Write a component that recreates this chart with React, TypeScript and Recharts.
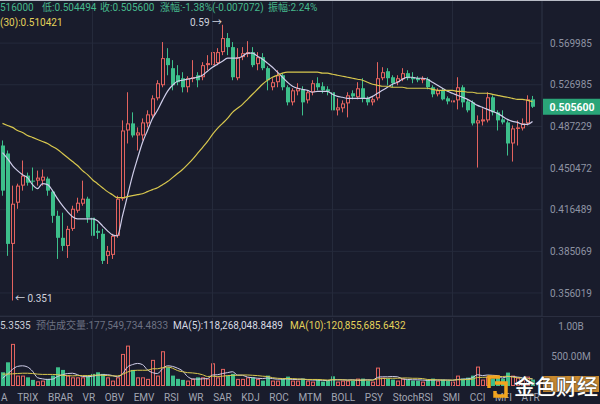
import React from "react";
import { ComposedChart, Bar, Line, XAxis, YAxis, CartesianGrid, ReferenceLine } from "recharts";

// OHLC per candle (oldest first)
const opens = [
  0.4700, 0.4630, 0.3905, 0.4220, 0.4358, 0.4441, 0.4399, 0.4399, 0.4399, 0.4416,
  0.4309, 0.4117, 0.3950, 0.3890, 0.4017, 0.4157, 0.4212, 0.4252, 0.4102, 0.4002,
  0.3980, 0.3818, 0.3825, 0.3965, 0.4252, 0.4835, 0.4900, 0.4790, 0.4790, 0.4900,
  0.4974, 0.5137, 0.5265, 0.5541, 0.5437, 0.5365, 0.5335, 0.5245, 0.5335, 0.5365,
  0.5345, 0.5468, 0.5468, 0.5489, 0.5604, 0.5754, 0.5657, 0.5335, 0.5551, 0.5583,
  0.5604, 0.5478, 0.5551, 0.5437, 0.5245, 0.5295, 0.5365, 0.5245, 0.5098, 0.5205,
  0.5225, 0.5117, 0.5196, 0.5285, 0.5255, 0.5225, 0.5196, 0.5022, 0.5041, 0.5088,
  0.5186, 0.5147, 0.5235, 0.5137, 0.5098, 0.5137, 0.5335, 0.5406, 0.5345, 0.5295,
  0.5325, 0.5386, 0.5345, 0.5335, 0.5315, 0.5325, 0.5245, 0.5176, 0.5215, 0.5137,
  0.5098, 0.5117, 0.5245, 0.5107, 0.5098, 0.4900, 0.4918, 0.4928, 0.5147, 0.5003,
  0.4937, 0.4909, 0.4718, 0.4854, 0.4854, 0.4900, 0.5127,
];
const highs = [
  0.4745, 0.4656, 0.4358, 0.4374, 0.4569, 0.4466, 0.4509, 0.4483, 0.4492, 0.4432,
  0.4325, 0.4157, 0.4141, 0.4040, 0.4196, 0.4260, 0.4399, 0.4268, 0.4117, 0.4055,
  0.4017, 0.3890, 0.3980, 0.4276, 0.4928, 0.5196, 0.5003, 0.4863, 0.4946, 0.5022,
  0.5166, 0.5315, 0.5711, 0.5646, 0.5520, 0.5468, 0.5396, 0.5355, 0.5520, 0.5396,
  0.5499, 0.5572, 0.5700, 0.5646, 0.5900, 0.5809, 0.5711, 0.5646, 0.5657, 0.5721,
  0.5657, 0.5604, 0.5593, 0.5457, 0.5335, 0.5416, 0.5386, 0.5265, 0.5235, 0.5285,
  0.5255, 0.5215, 0.5315, 0.5345, 0.5295, 0.5255, 0.5215, 0.5137, 0.5117, 0.5196,
  0.5215, 0.5295, 0.5335, 0.5156, 0.5147, 0.5499, 0.5447, 0.5437, 0.5365, 0.5365,
  0.5437, 0.5416, 0.5396, 0.5355, 0.5355, 0.5345, 0.5265, 0.5235, 0.5235, 0.5156,
  0.5166, 0.5345, 0.5265, 0.5127, 0.5117, 0.4974, 0.5041, 0.5196, 0.5166, 0.5022,
  0.5022, 0.4928, 0.4881, 0.4928, 0.4946, 0.5166, 0.5160,
];
const lows = [
  0.4276, 0.3818, 0.3510, 0.4172, 0.4317, 0.4358, 0.4317, 0.4358, 0.4358, 0.4276,
  0.4063, 0.3796, 0.3854, 0.3803, 0.4002, 0.4141, 0.4196, 0.4063, 0.3927, 0.3942,
  0.3760, 0.3760, 0.3796, 0.3950, 0.4236, 0.4718, 0.4772, 0.4656, 0.4745, 0.4863,
  0.4946, 0.5117, 0.5245, 0.5365, 0.5215, 0.5265, 0.5195, 0.5195, 0.5295, 0.5245,
  0.5315, 0.5416, 0.5447, 0.5468, 0.5572, 0.5572, 0.5315, 0.5315, 0.5520, 0.5551,
  0.5447, 0.5416, 0.5416, 0.5215, 0.5215, 0.5245, 0.5215, 0.5069, 0.5069, 0.5166,
  0.4974, 0.5088, 0.5166, 0.5215, 0.5186, 0.5166, 0.4909, 0.4974, 0.5003, 0.4956,
  0.5127, 0.5127, 0.5098, 0.5069, 0.5069, 0.5117, 0.5315, 0.5265, 0.5245, 0.5265,
  0.5305, 0.5315, 0.5285, 0.5295, 0.5285, 0.5225, 0.5147, 0.5156, 0.5117, 0.5079,
  0.5088, 0.5031, 0.5050, 0.5003, 0.4881, 0.4509, 0.4881, 0.4909, 0.4974, 0.4835,
  0.4891, 0.4612, 0.4560, 0.4700, 0.4835, 0.4881, 0.5045,
];
const closes = [
  0.4317, 0.3905, 0.4212, 0.4358, 0.4441, 0.4382, 0.4391, 0.4424, 0.4432, 0.4317,
  0.4117, 0.3950, 0.3890, 0.4017, 0.4172, 0.4220, 0.4252, 0.4102, 0.3965, 0.3987,
  0.3782, 0.3854, 0.3965, 0.4252, 0.4835, 0.4900, 0.4790, 0.4817, 0.4909, 0.4984,
  0.5137, 0.5285, 0.5541, 0.5468, 0.5265, 0.5295, 0.5245, 0.5335, 0.5345, 0.5315,
  0.5468, 0.5489, 0.5604, 0.5604, 0.5754, 0.5657, 0.5345, 0.5551, 0.5593, 0.5604,
  0.5468, 0.5551, 0.5437, 0.5315, 0.5295, 0.5365, 0.5245, 0.5098, 0.5215, 0.5235,
  0.5098, 0.5196, 0.5285, 0.5245, 0.5215, 0.5205, 0.5022, 0.5050, 0.5088, 0.5166,
  0.5156, 0.5235, 0.5137, 0.5098, 0.5127, 0.5335, 0.5396, 0.5335, 0.5285, 0.5335,
  0.5386, 0.5335, 0.5325, 0.5315, 0.5335, 0.5245, 0.5176, 0.5215, 0.5127, 0.5107,
  0.5117, 0.5245, 0.5098, 0.5022, 0.4900, 0.4928, 0.4937, 0.5147, 0.5003, 0.4928,
  0.4909, 0.4718, 0.4854, 0.4863, 0.4900, 0.5127, 0.5056,
];

// short moving average (white) and MA(30) (yellow)
const maShort = [
  0.4638, 0.4586, 0.4526, 0.4483, 0.4449, 0.4424, 0.4366, 0.4333, 0.4374, 0.4366,
  0.4317, 0.4252, 0.4196, 0.4149, 0.4110, 0.4094, 0.4094, 0.4094, 0.4094, 0.4079,
  0.4040, 0.4002, 0.3972, 0.3965, 0.4117, 0.4276, 0.4441, 0.4586, 0.4727, 0.4835,
  0.4946, 0.5022, 0.5117, 0.5205, 0.5265, 0.5305, 0.5315, 0.5325, 0.5335, 0.5345,
  0.5365, 0.5406, 0.5447, 0.5478, 0.5509, 0.5541, 0.5541, 0.5541, 0.5561, 0.5593,
  0.5593, 0.5561, 0.5530, 0.5489, 0.5447, 0.5396, 0.5345, 0.5295, 0.5255, 0.5235,
  0.5225, 0.5215, 0.5196, 0.5205, 0.5205, 0.5205, 0.5176, 0.5156, 0.5147, 0.5137,
  0.5137, 0.5137, 0.5137, 0.5137, 0.5156, 0.5186, 0.5215, 0.5245, 0.5275, 0.5295,
  0.5325, 0.5345, 0.5345, 0.5335, 0.5335, 0.5325, 0.5295, 0.5265, 0.5235, 0.5205,
  0.5186, 0.5166, 0.5147, 0.5127, 0.5098, 0.5069, 0.5050, 0.5031, 0.5012, 0.4993,
  0.4965, 0.4937, 0.4918, 0.4909, 0.4891, 0.4891, 0.4918,
];
const ma30 = [
  0.4900, 0.4881, 0.4863, 0.4835, 0.4817, 0.4790, 0.4772, 0.4754, 0.4736, 0.4718,
  0.4691, 0.4665, 0.4630, 0.4595, 0.4560, 0.4526, 0.4483, 0.4449, 0.4407, 0.4374,
  0.4341, 0.4309, 0.4284, 0.4260, 0.4260, 0.4268, 0.4276, 0.4284, 0.4292, 0.4309,
  0.4325, 0.4341, 0.4366, 0.4391, 0.4424, 0.4458, 0.4492, 0.4534, 0.4578, 0.4630,
  0.4682, 0.4736, 0.4799, 0.4854, 0.4900, 0.4946, 0.5003, 0.5041, 0.5079, 0.5127,
  0.5176, 0.5225, 0.5275, 0.5315, 0.5345, 0.5365, 0.5386, 0.5396, 0.5396, 0.5396,
  0.5396, 0.5396, 0.5396, 0.5396, 0.5386, 0.5386, 0.5375, 0.5365, 0.5355, 0.5345,
  0.5335, 0.5325, 0.5315, 0.5295, 0.5275, 0.5265, 0.5255, 0.5255, 0.5245, 0.5245,
  0.5245, 0.5235, 0.5235, 0.5235, 0.5235, 0.5235, 0.5225, 0.5215, 0.5215, 0.5215,
  0.5215, 0.5205, 0.5205, 0.5196, 0.5196, 0.5186, 0.5186, 0.5186, 0.5176, 0.5166,
  0.5156, 0.5147, 0.5137, 0.5127, 0.5127, 0.5117, 0.5104,
];

// volume in millions, with its MA(5) and MA(10)
const volumes = [
  231, 399, 709, 175, 175, 146, 103, 79, 91, 120,
  175, 315, 271, 175, 146, 146, 146, 175, 204, 231,
  204, 146, 91, 146, 540, 680, 271, 146, 146, 120,
  440, 175, 585, 315, 175, 120, 103, 91, 120, 146,
  146, 125, 382, 146, 288, 175, 204, 120, 120, 146,
  146, 120, 91, 175, 91, 91, 120, 158, 91, 91,
  125, 91, 74, 108, 74, 91, 163, 74, 91, 91,
  91, 125, 125, 91, 74, 310, 141, 125, 108, 91,
  125, 108, 91, 91, 74, 108, 125, 91, 108, 91,
  74, 175, 125, 141, 175, 327, 108, 158, 125, 158,
  125, 226, 175, 141, 125, 158, 108,
];
const volMa5 = [
  130, 200, 280, 330, 340, 320, 250, 140, 120, 110,
  115, 160, 190, 210, 215, 190, 160, 155, 165, 180,
  190, 190, 175, 155, 205, 320, 360, 380, 360, 270,
  225, 210, 290, 340, 330, 300, 255, 160, 120, 115,
  120, 125, 185, 190, 210, 225, 240, 185, 180, 150,
  140, 130, 125, 135, 125, 115, 115, 120, 110, 110,
  115, 105, 100, 100, 95, 90, 105, 105, 105, 100,
  105, 95, 100, 105, 100, 145, 155, 155, 160, 155,
  120, 110, 105, 105, 100, 95, 100, 100, 100, 100,
  95, 110, 115, 120, 140, 190, 175, 185, 180, 175,
  135, 160, 160, 150, 140, 130, 118,
];
const volMa10 = [
  200, 200, 205, 210, 215, 215, 210, 200, 195, 195,
  195, 190, 180, 175, 170, 175, 175, 175, 180, 185,
  180, 175, 170, 170, 195, 235, 260, 265, 265, 265,
  290, 290, 310, 320, 300, 260, 240, 225, 220, 210,
  190, 160, 165, 160, 165, 175, 180, 180, 185, 185,
  180, 175, 165, 160, 140, 130, 125, 125, 125, 120,
  115, 110, 110, 110, 105, 100, 105, 105, 105, 100,
  100, 100, 100, 100, 100, 120, 125, 130, 130, 130,
  135, 135, 130, 130, 125, 110, 105, 105, 100, 100,
  100, 105, 105, 110, 115, 145, 145, 150, 155, 160,
  160, 165, 150, 140, 130, 125, 121,
];

const priceTicks = [0.356019, 0.385069, 0.416489, 0.450472, 0.487229, 0.526985, 0.569985];
const volumeTicks = [500, 1000];
const gridCandles = [18, 42, 66, 90];
const indicatorTabs = [
  "A", "TRIX", "BRAR", "VR", "OBV", "EMV", "RSI", "WR", "SAR", "KDJ",
  "ROC", "MTM", "BOLL", "PSY", "StochRSI", "SMI", "CCI", "MFI", "ATR",
];

const UP = "#e3635f";
const DOWN = "#3dbf8b";
const BG = "#191c2c";
const GRID = "#252a3b";
const AXIS_LINE = "#2f3447";
const MA_WHITE = "#cfcde9";
const MA_YELLOW = "#d8c74e";
const LABEL = "#8e93a3";
const FONT = "Roboto, 'Noto Sans CJK SC', sans-serif";

const lastClose = closes[closes.length - 1];

const candles = closes.map((close, i) => ({
  i,
  up: close >= opens[i],
  wick: [lows[i], highs[i]],
  body: [Math.min(opens[i], close), Math.max(opens[i], close)],
  maShort: maShort[i],
  ma30: ma30[i],
  vol: volumes[i],
  volMa5: volMa5[i],
  volMa10: volMa10[i],
}));

function span(p: any) {
  let y = p.y;
  let h = p.height;
  if (h < 0) {
    y += h;
    h = -h;
  }
  return { y, h };
}

const WickShape = (props: any) => {
  const { x, width, payload } = props;
  const { y, h } = span(props);
  return <rect x={x + width / 2 - 0.5} y={y} width={1} height={Math.max(h, 1)} fill={payload.up ? UP : DOWN} />;
};

const BodyShape = (props: any) => {
  const { x, width, payload } = props;
  const { y, h } = span(props);
  if (payload.up) {
    return (
      <rect x={x + 0.5} y={y + 0.5} width={width - 1} height={Math.max(h - 1, 0.5)}
        fill={BG} stroke={UP} strokeWidth={1} />
    );
  }
  return <rect x={x} y={y} width={width} height={Math.max(h, 1)} fill={DOWN} />;
};

const axisTick = (fmt: (v: number) => string) => (p: any) => (
  <text x={571} y={p.y} dy="0.36em" textAnchor="middle" fill={LABEL} fontSize={10} fontFamily={FONT}>
    {fmt(p.payload.value)}
  </text>
);

const PriceTag = ({ viewBox }: any) => {
  const right = viewBox && viewBox.width != null ? viewBox.x + viewBox.width : 542;
  return (
    <g>
      <rect x={right + 1} y={viewBox.y - 8} width={58} height={16} fill="#2aa578" />
      <text x={right + 30} y={viewBox.y} dy="0.36em" textAnchor="middle" fill="#ffffff"
        fontSize={10.5} fontWeight={700} fontFamily={FONT}>
        {lastClose.toFixed(6)}
      </text>
    </g>
  );
};

const fmtVol = (v: number) => (v >= 1000 ? (v / 1000).toFixed(2) + "B" : v.toFixed(2) + "M");

const txt = (left: number, top: number, color: string, size = 10): React.CSSProperties => ({
  position: "absolute",
  left,
  top,
  color,
  fontSize: size,
  whiteSpace: "pre",
  lineHeight: "12px",
});

export default function App() {
  return (
    <div style={{ position: "fixed", left: 0, top: 0, width: 600, height: 404, background: BG, overflow: "hidden", fontFamily: FONT }}>
      <div style={{ position: "absolute", left: 0, top: 316, width: 600, height: 1, background: "#2a2e40" }} />
      <div style={{ position: "absolute", left: 0, top: 0 }}>
        <ComposedChart width={600} height={316} data={candles} margin={{ top: 0, right: 0, left: 0, bottom: 0 }}>
          <XAxis xAxisId="wick" dataKey="i" hide padding={{ left: 0, right: 7 }} />
          <XAxis xAxisId="body" dataKey="i" hide padding={{ left: 0, right: 7 }} />
          <YAxis orientation="right" scale="log" domain={[0.3409, 0.6182]} allowDataOverflow
            ticks={priceTicks} interval={0} width={58} axisLine={{ stroke: AXIS_LINE }} tickLine={false}
            tick={axisTick((v) => v.toFixed(6))} />
          <CartesianGrid xAxisId="body" vertical={false} stroke={GRID} />
          {gridCandles.map((c) => (
            <ReferenceLine key={c} xAxisId="body" x={c} stroke={GRID} />
          ))}
          <Bar xAxisId="wick" dataKey="wick" barSize={1} shape={<WickShape />} isAnimationActive={false} />
          <Bar xAxisId="body" dataKey="body" barSize={4} shape={<BodyShape />} isAnimationActive={false} />
          <Line xAxisId="body" dataKey="maShort" type="monotone" stroke={MA_WHITE} strokeWidth={1.2} dot={false} isAnimationActive={false} />
          <Line xAxisId="body" dataKey="ma30" type="monotone" stroke={MA_YELLOW} strokeWidth={1.2} dot={false} isAnimationActive={false} />
          <ReferenceLine xAxisId="body" y={lastClose} stroke="none" label={<PriceTag />} />
        </ComposedChart>
      </div>
      <div style={{ position: "absolute", left: 0, top: 316 }}>
        <ComposedChart width={600} height={70} data={candles} margin={{ top: 2, right: 0, left: 0, bottom: 0 }}>
          <XAxis dataKey="i" hide padding={{ left: 0, right: 7 }} />
          <YAxis orientation="right" domain={[0, 1145]} allowDataOverflow ticks={volumeTicks} interval={0}
            width={58} axisLine={{ stroke: AXIS_LINE }} tickLine={false} tick={axisTick(fmtVol)} />
          {gridCandles.map((c) => (
            <ReferenceLine key={c} x={c} stroke={GRID} />
          ))}
          <Bar dataKey="vol" barSize={4} shape={<BodyShape />} isAnimationActive={false} />
          <Line dataKey="volMa5" type="monotone" stroke={MA_WHITE} strokeWidth={1} dot={false} isAnimationActive={false} />
          <Line dataKey="volMa10" type="monotone" stroke={MA_YELLOW} strokeWidth={1} dot={false} isAnimationActive={false} />
        </ComposedChart>
      </div>
      <div style={{ position: "absolute", left: 0, top: 0, width: 600, height: 1, background: "#b9bdc7" }} />

      <div style={txt(0, 2, "#46b98c")}>516000</div>
      <div style={txt(42, 2, "#46b98c")}>低:0.504494</div>
      <div style={txt(100, 2, "#46b98c")}>收:0.505600</div>
      <div style={txt(160, 2, "#46b98c")}>涨幅:-1.38%(-0.007072)</div>
      <div style={txt(268, 2, "#46b98c")}>振幅:2.24%</div>
      <div style={txt(0, 17, "#e4d25a")}>(30):0.510421</div>
      <div style={txt(190, 17, "#cfd2dc")}>0.59 →</div>
      <div style={txt(15, 293, "#cfd2dc")}>← 0.351</div>

      <div style={txt(0, 320, "#c9ccd6")}>5.3535</div>
      <div style={txt(36, 320, "#6c7182")}>预估成交量:177,549,734.4833</div>
      <div style={txt(173, 320, "#d7d9e2")}>MA(5):118,268,048.8489</div>
      <div style={txt(290, 320, "#e4d25a")}>MA(10):120,855,685.6432</div>

      <div style={{ position: "absolute", left: 1, top: 392, display: "flex", gap: 9.6, color: "#a2a6b3", fontSize: 10, lineHeight: "12px" }}>
        {indicatorTabs.map((t) => (
          <span key={t}>{t}</span>
        ))}
      </div>

      <div style={{ position: "absolute", left: 543, top: 376, width: 56, height: 16, background: "#c8892e" }} />
      <svg style={{ position: "absolute", left: 486, top: 374 }} width={26} height={26}>
        <path d="M3 14 V3 H14" fill="none" stroke="#f2a51e" strokeWidth={3.5} />
        <path d="M9 9 H20 V22 H9 V17" fill="none" stroke="#f2a51e" strokeWidth={3.5} />
      </svg>
      <div style={{ position: "absolute", left: 514, top: 375, color: "#ffffff", fontSize: 21, lineHeight: "24px", fontWeight: 500, textShadow: "0 0 2px #333, 0 0 1px #333", letterSpacing: 0 }}>
        金色财经
      </div>
    </div>
  );
}
